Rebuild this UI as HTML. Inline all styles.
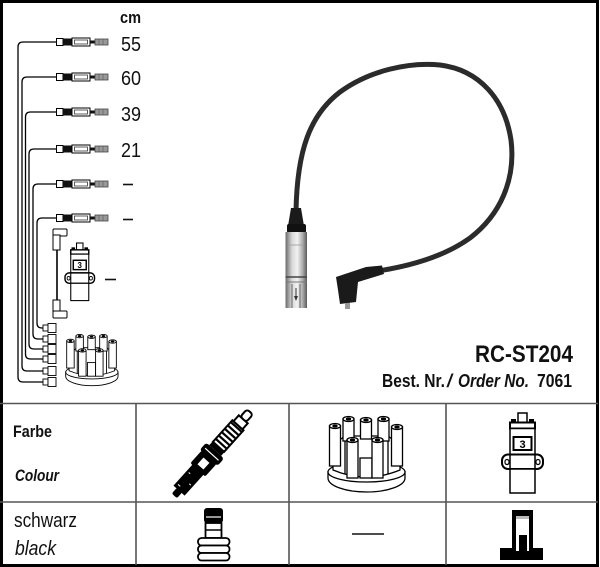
<!DOCTYPE html>
<html><head><meta charset="utf-8"><style>
html,body{margin:0;padding:0;background:#fff;}
svg{display:block;}
text{font-family:"Liberation Sans",Arial,sans-serif;}
</style></head><body>
<svg width="600" height="567" viewBox="0 0 600 567" xmlns="http://www.w3.org/2000/svg">
<defs>
<linearGradient id="metal" x1="0" x2="1" y1="0" y2="0">
<stop offset="0" stop-color="#6a6a6a"/><stop offset="0.3" stop-color="#d8d8d8"/><stop offset="0.55" stop-color="#f2f2f2"/><stop offset="0.8" stop-color="#aaa"/><stop offset="1" stop-color="#5a5a5a"/>
</linearGradient>
<g id="coil">
<rect x="518" y="413" width="9" height="10" fill="#fff" stroke="#000" stroke-width="1.5"/>
<rect x="511" y="419" width="5" height="4" fill="#000"/>
<rect x="529" y="419" width="5" height="4" fill="#000"/>
<rect x="510" y="422.5" width="25" height="6" fill="#fff" stroke="#000" stroke-width="2"/>
<rect x="510" y="428.5" width="25" height="26" fill="#fff" stroke="#000" stroke-width="1.5"/>
<rect x="513.5" y="437" width="18" height="13" fill="#fff" stroke="#000" stroke-width="2"/>
<text x="522.5" y="448" font-size="11" font-weight="bold" text-anchor="middle">3</text>
<rect x="502" y="454.5" width="41" height="14.5" rx="6" fill="#fff" stroke="#000" stroke-width="2"/>
<rect x="505" y="459.5" width="4" height="5" rx="2" fill="#fff" stroke="#000" stroke-width="1.2"/>
<rect x="536" y="459.5" width="4" height="5" rx="2" fill="#fff" stroke="#000" stroke-width="1.2"/>
<line x1="510" y1="454.5" x2="510" y2="469" stroke="#000" stroke-width="1.5"/>
<line x1="535" y1="454.5" x2="535" y2="469" stroke="#000" stroke-width="1.5"/>
<rect x="510" y="469" width="25" height="24" fill="#fff" stroke="#000" stroke-width="1.5"/>
</g>
<g id="cap" stroke="#000" stroke-width="1.3" fill="#fff">
<path d="M328,472 L328,478 A38.5,14 0 0 0 405,478 L405,472 Z"/>
<ellipse cx="366.5" cy="472" rx="38.5" ry="10"/>
<path d="M333,470 L333,445 L345,436 L388,436 L400,445 L400,470 Q366,484 333,470 Z"/>
<line x1="345" y1="436" x2="345" y2="474"/>
<line x1="388" y1="436" x2="388" y2="474"/>
<rect x="360" y="458" width="12" height="20"/>
<rect x="343" y="419" width="11" height="22"/><ellipse cx="348.5" cy="419" rx="5.5" ry="2.5"/><ellipse cx="348.5" cy="419" rx="2" ry="1" fill="#000"/>
<rect x="360.5" y="420" width="11" height="19"/><ellipse cx="366" cy="420" rx="5.5" ry="2.5"/><ellipse cx="366" cy="420" rx="2" ry="1" fill="#000"/>
<rect x="378" y="419" width="11" height="22"/><ellipse cx="383.5" cy="419" rx="5.5" ry="2.5"/><ellipse cx="383.5" cy="419" rx="2" ry="1" fill="#000"/>
<rect x="329.5" y="426" width="11" height="40"/><ellipse cx="335" cy="426" rx="5.5" ry="2.5"/><ellipse cx="335" cy="426" rx="2" ry="1" fill="#000"/>
<rect x="391.5" y="427" width="11" height="39"/><ellipse cx="397" cy="427" rx="5.5" ry="2.5"/><ellipse cx="397" cy="427" rx="2" ry="1" fill="#000"/>
<rect x="347" y="440" width="11" height="38"/><ellipse cx="352.5" cy="440" rx="5.5" ry="2.5"/><ellipse cx="352.5" cy="440" rx="2" ry="1" fill="#000"/>
<rect x="372" y="440" width="11" height="38"/><ellipse cx="377.5" cy="440" rx="5.5" ry="2.5"/><ellipse cx="377.5" cy="440" rx="2" ry="1" fill="#000"/>
</g>
<g id="conn">
<rect x="56.5" y="-3.5" width="6.5" height="7" fill="#fff" stroke="#000" stroke-width="1"/>
<rect x="63" y="-3.5" width="9" height="7" fill="#111"/>
<rect x="72" y="-4" width="18" height="8" fill="#fff" stroke="#000" stroke-width="1"/>
<rect x="74.5" y="-2" width="13" height="4" fill="#fff" stroke="#333" stroke-width="0.8"/>
<rect x="90" y="-1.5" width="5" height="3" fill="#111"/>
<rect x="95" y="-3" width="13" height="6" fill="#999" stroke="#444" stroke-width="0.8"/>
<line x1="99" y1="-3" x2="99" y2="3" stroke="#555" stroke-width="0.6"/>
<line x1="103" y1="-3" x2="103" y2="3" stroke="#555" stroke-width="0.6"/>
</g>
<g id="bconn" fill="#fff" stroke="#000" stroke-width="0.9">
<rect x="43" y="-3" width="5" height="6"/>
<rect x="48" y="-4.5" width="8" height="9"/>
</g>
</defs>

<!-- outer border -->
<rect x="1.5" y="1.5" width="596" height="564" fill="none" stroke="#000" stroke-width="3"/>

<!-- wires -->
<g fill="none" stroke="#000" stroke-width="1.3">
<path d="M56.5,42 H23 Q18,42 18,47 V377 Q18,382 23,382 H43"/>
<path d="M56.5,77 H27 Q22,77 22,82 V366 Q22,371 27,371 H43"/>
<path d="M56.5,112 H30.5 Q25.5,112 25.5,117 V354 Q25.5,359 30.5,359 H43"/>
<path d="M56.5,149 H34 Q29,149 29,154 V344 Q29,349 34,349 H43"/>
<path d="M56.5,184 H38 Q33,184 33,189 V334 Q33,339 38,339 H43"/>
<path d="M56.5,218 H42 Q37,218 37,223 V323 Q37,328 42,328 H43"/>
</g>
<use href="#conn" transform="translate(0,42)"/>
<use href="#conn" transform="translate(0,77)"/>
<use href="#conn" transform="translate(0,112)"/>
<use href="#conn" transform="translate(0,149)"/>
<use href="#conn" transform="translate(0,184)"/>
<use href="#conn" transform="translate(0,218)"/>
<use href="#bconn" transform="translate(0,328)"/>
<use href="#bconn" transform="translate(0,339)"/>
<use href="#bconn" transform="translate(0,349)"/>
<use href="#bconn" transform="translate(0,359)"/>
<use href="#bconn" transform="translate(0,371)"/>
<use href="#bconn" transform="translate(0,382)"/>

<!-- coil lead -->
<g fill="#fff" stroke="#000" stroke-width="1">
<rect x="53" y="229" width="14" height="7" rx="1"/>
<rect x="53" y="235" width="7" height="15"/>
<line x1="57" y1="250" x2="57" y2="300" stroke-width="1.6"/>
<rect x="53" y="300" width="7" height="13"/>
<rect x="53" y="311" width="14" height="7" rx="1"/>
</g>

<!-- small coil & cap -->
<use href="#coil" transform="translate(65,243) scale(0.72) translate(-502,-413)"/>
<use href="#cap" transform="translate(65,332) scale(0.68) translate(-327,-413)"/>

<!-- cm labels -->
<g font-size="20" fill="#111">
<text x="120" y="23" font-size="17" font-weight="bold" textLength="21" lengthAdjust="spacingAndGlyphs">cm</text>
<text x="121" y="51" textLength="20" lengthAdjust="spacingAndGlyphs">55</text>
<text x="121" y="85" textLength="20" lengthAdjust="spacingAndGlyphs">60</text>
<text x="121" y="121" textLength="20" lengthAdjust="spacingAndGlyphs">39</text>
<text x="121" y="157" textLength="20" lengthAdjust="spacingAndGlyphs">21</text>
</g>
<g stroke="#111" stroke-width="1.6">
<line x1="123" y1="184.5" x2="133" y2="184.5"/>
<line x1="123" y1="219.5" x2="133" y2="219.5"/>
<line x1="105" y1="279.5" x2="116" y2="279.5"/>
</g>

<!-- cable photo -->
<path d="M296,212 C297,150 310,115 340,92 C370,70 410,62 440,65 C480,70 505,100 511,140 C516,180 500,215 470,238 C445,256 410,266 378,271" fill="none" stroke="#2b2b2b" stroke-width="5" stroke-linecap="round"/>
<path d="M291,208 L301,208 L304,226 L288,226 Z" fill="#1a1a1a"/>
<rect x="287" y="224" width="19" height="9" rx="2" fill="#111"/>
<rect x="285.5" y="232" width="21.5" height="76" fill="url(#metal)"/>
<line x1="285.5" y1="277" x2="307" y2="277" stroke="#444" stroke-width="1.5"/>
<line x1="285.5" y1="282" x2="307" y2="282" stroke="#777" stroke-width="1"/>
<line x1="292" y1="284" x2="292" y2="308" stroke="#666" stroke-width="1"/>
<line x1="300" y1="284" x2="300" y2="308" stroke="#666" stroke-width="1"/>
<line x1="296" y1="288" x2="296" y2="300" stroke="#333" stroke-width="1"/>
<path d="M294,296 L296,301 L298,296 Z" fill="#333"/>
<line x1="289" y1="245" x2="304" y2="245" stroke="#999" stroke-width="0.8"/>
<path d="M336,277 L366,267 L382,265.5 L384,274 L358,282 L356,302 L340,304 L338,290 Z" fill="#1a1a1a"/>
<rect x="345" y="303" width="5" height="6" fill="#999"/>

<!-- title -->
<text x="475" y="362" font-size="24" font-weight="bold" fill="#111" textLength="98" lengthAdjust="spacingAndGlyphs">RC-ST204</text>
<text x="382" y="387" font-size="18" font-weight="bold" fill="#111" textLength="63" lengthAdjust="spacingAndGlyphs">Best. Nr.</text>
<text x="447" y="387" font-size="18" font-weight="bold" font-style="italic" fill="#111">/</text>
<text x="458" y="387" font-size="18" font-weight="bold" font-style="italic" fill="#111" textLength="71" lengthAdjust="spacingAndGlyphs">Order No.</text>
<text x="537" y="387" font-size="18" font-weight="bold" fill="#111" textLength="35" lengthAdjust="spacingAndGlyphs">7061</text>

<!-- table lines -->
<g stroke="#555" stroke-width="1.6">
<line x1="0" y1="403.5" x2="598" y2="403.5"/>
<line x1="0" y1="502" x2="598" y2="502"/>
<line x1="136" y1="403.5" x2="136" y2="565"/>
<line x1="289" y1="403.5" x2="289" y2="565"/>
<line x1="446" y1="403.5" x2="446" y2="565"/>
</g>

<!-- table text -->
<text x="13" y="437" font-size="17" font-weight="bold" fill="#111" textLength="39" lengthAdjust="spacingAndGlyphs">Farbe</text>
<text x="15" y="481" font-size="17" font-weight="bold" font-style="italic" fill="#111" textLength="44" lengthAdjust="spacingAndGlyphs">Colour</text>
<text x="14" y="527" font-size="20" fill="#111" textLength="63" lengthAdjust="spacingAndGlyphs">schwarz</text>
<text x="15" y="555" font-size="20" font-style="italic" fill="#111" textLength="41" lengthAdjust="spacingAndGlyphs">black</text>

<!-- spark plug -->
<g transform="translate(212.5,453.5) rotate(-48)">
<rect x="-57" y="-3.5" width="8" height="7" rx="2" fill="#000"/>
<rect x="-50" y="-7.5" width="29" height="15" fill="#000"/>
<line x1="-46" y1="-5" x2="-46" y2="-2" stroke="#fff" stroke-width="1"/>
<line x1="-38" y1="3" x2="-38" y2="5" stroke="#fff" stroke-width="1"/>
<line x1="-30" y1="-5" x2="-30" y2="-3" stroke="#fff" stroke-width="1"/>
<rect x="-22" y="-10" width="17" height="20" rx="2" fill="#000"/>
<rect x="-18" y="-4" width="9" height="8" fill="#fff"/>
<rect x="-6" y="-12" width="10" height="24" rx="3" fill="#000"/>
<line x1="-1" y1="-9" x2="-1" y2="9" stroke="#fff" stroke-width="1.2"/>
<rect x="4" y="-8" width="5" height="16" fill="#000"/>
<rect x="9" y="-7.5" width="29" height="15" fill="#fff" stroke="#000" stroke-width="2"/>
<g fill="#000">
<rect x="12" y="-7.5" width="2.2" height="15"/><rect x="16.5" y="-7.5" width="2.2" height="15"/>
<rect x="21" y="-7.5" width="2.2" height="15"/><rect x="25.5" y="-7.5" width="2.2" height="15"/>
<rect x="30" y="-7.5" width="2.2" height="15"/><rect x="34.5" y="-7.5" width="2.2" height="15"/>
</g>
<rect x="38" y="-6" width="8" height="12" fill="#fff" stroke="#000" stroke-width="2"/>
<rect x="46" y="-4" width="10" height="8" rx="3" fill="#fff" stroke="#000" stroke-width="2"/>
</g>

<!-- small boot icon -->
<rect x="204" y="508" width="19" height="15" rx="3" fill="#000"/>
<line x1="206" y1="517" x2="221" y2="517" stroke="#fff" stroke-width="1.2"/>
<rect x="205.5" y="523" width="16" height="15" fill="#fff" stroke="#000" stroke-width="1.8"/>
<line x1="205.5" y1="530" x2="221.5" y2="530" stroke="#000" stroke-width="1.5"/>
<rect x="198" y="538" width="31.5" height="7.5" rx="3.5" fill="#fff" stroke="#000" stroke-width="1.8"/>
<rect x="198" y="545.5" width="31.5" height="7.5" rx="3.5" fill="#fff" stroke="#000" stroke-width="1.8"/>
<rect x="198" y="553" width="31.5" height="7.5" rx="3.5" fill="#fff" stroke="#000" stroke-width="1.8"/>

<!-- distributor cap big -->
<use href="#cap"/>
<line x1="352" y1="534" x2="384" y2="534" stroke="#111" stroke-width="1.6"/>

<!-- coil big -->
<use href="#coil"/>

<!-- connector icon col4 -->
<rect x="512" y="510" width="21" height="39" fill="#000"/>
<rect x="516" y="516" width="13" height="33" fill="#fff"/>
<rect x="516" y="516" width="13" height="3" fill="#bbb"/>
<rect x="519" y="535" width="8" height="14" fill="#000"/>
<rect x="500" y="548" width="43" height="12" fill="#000"/>
<rect x="516" y="548" width="3" height="3" fill="#fff"/>
<rect x="527" y="548" width="2" height="3" fill="#fff"/>
</svg>
</body></html>
